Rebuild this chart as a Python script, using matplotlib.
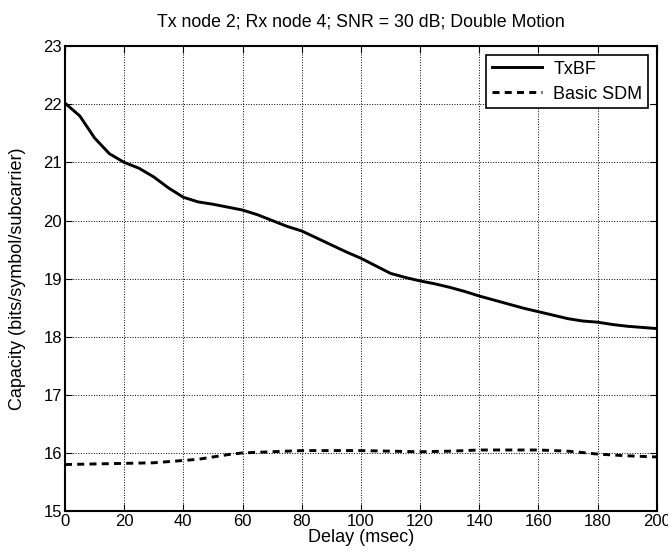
import matplotlib
matplotlib.use('Agg')
import matplotlib.pyplot as plt

# Dati
delay = [0, 5, 10, 15, 20, 25, 30, 35, 40, 45, 50, 55, 60, 65, 70, 75, 80, 85,
         90, 95, 100, 105, 110, 115, 120, 125, 130, 135, 140, 145, 150, 155,
         160, 165, 170, 175, 180, 185, 190, 195, 200]
txbf = [22.02, 21.8, 21.42, 21.15, 21.0, 20.9, 20.75, 20.56, 20.4, 20.32,
        20.28, 20.23, 20.18, 20.1, 20.0, 19.9, 19.82, 19.7, 19.58, 19.46,
        19.35, 19.22, 19.09, 19.02, 18.96, 18.91, 18.85, 18.78, 18.7, 18.63,
        18.56, 18.49, 18.43, 18.37, 18.31, 18.27, 18.25, 18.21, 18.18, 18.16,
        18.14]
sdm_delay = [0, 10, 20, 30, 40, 45, 50, 55, 60, 70, 80, 90, 100, 110, 120,
             130, 140, 150, 160, 170, 180, 190, 200]
sdm = [15.8, 15.81, 15.82, 15.83, 15.87, 15.89, 15.93, 15.97, 16.0, 16.02,
       16.04, 16.04, 16.04, 16.03, 16.02, 16.03, 16.05, 16.05, 16.05, 16.03,
       15.98, 15.95, 15.93]

plt.rcParams['font.family'] = ['Liberation Sans', 'DejaVu Sans']

fig = plt.figure(figsize=(6.68, 5.54), dpi=100)
ax = fig.add_axes([0.0973, 0.0776, 0.886, 0.839])

ax.plot(delay, txbf, color='black', linewidth=2.1, label='TxBF')
ax.plot(sdm_delay, sdm, color='black', linewidth=2.1, linestyle=(0, (2.4, 1.8)),
        label='Basic SDM')

ax.set_xlim(0, 200)
ax.set_ylim(15, 23)
ax.set_xticks(range(0, 201, 20))
ax.set_yticks(range(15, 24))
ax.grid(True, color='black', linestyle=':', linewidth=0.7)
ax.tick_params(direction='in', top=True, right=True, length=5, labelsize=12, pad=2)
for s in ax.spines.values():
    s.set_linewidth(1.5)

ax.set_xlabel('Delay (msec)', fontsize=13, labelpad=0)
ax.set_ylabel('Capacity (bits/symbol/subcarrier)', fontsize=13)
ax.yaxis.set_label_coords(-0.066, 0.5)
ax.set_title('Tx node 2; Rx node 4; SNR = 30 dB; Double Motion', fontsize=12.8, pad=14)

leg = ax.legend(loc='upper right', fancybox=False, framealpha=1, edgecolor='black',
                fontsize=13, handlelength=2.8, handletextpad=0.6, labelspacing=0.45,
                borderaxespad=0.5, borderpad=0.3)
leg.get_frame().set_linewidth(1.2)

fig.savefig('out.png', dpi=100)
